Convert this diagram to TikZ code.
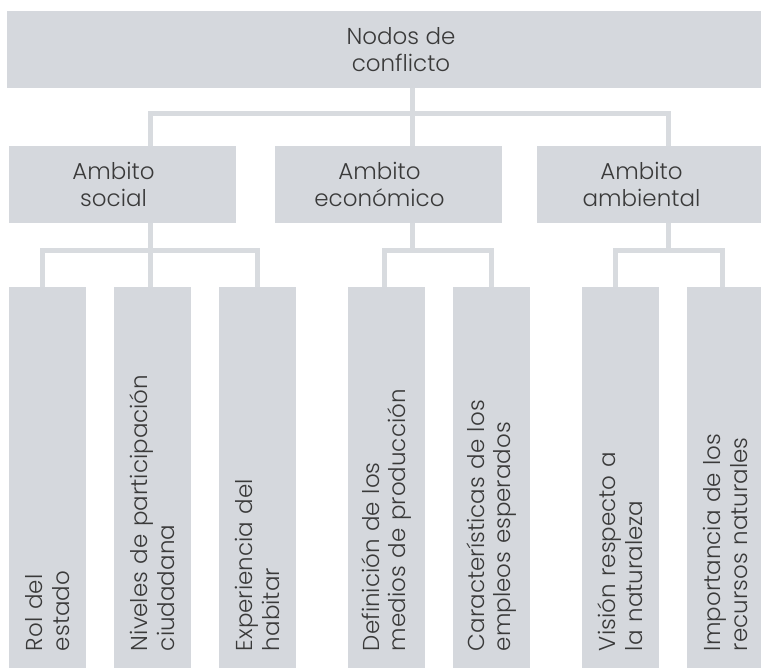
\documentclass[tikz,border=0pt]{standalone}
\usepackage{fontspec}
\IfFontExistsTF{Poppins Light}{\setmainfont{Poppins Light}}{\setmainfont{Poppins}}
\usetikzlibrary{positioning}
\definecolor{boxgray}{RGB}{213,216,221}
\definecolor{linegray}{RGB}{216,219,223}
\definecolor{textgray}{RGB}{58,58,58}
\tikzset{
  cbox/.style={fill=boxgray,inner sep=0pt,outer sep=0pt},
  midbox/.style={cbox,minimum width=227pt,minimum height=77pt},
  boxtext/.style={text=textgray,font=\fontsize{23}{26.7}\selectfont,align=center,inner sep=0pt},
  leaf/.style={cbox,rotate=90,minimum width=381pt,minimum height=77pt,text width=347pt,inner xsep=17pt,align=left,text=textgray,font=\fontsize{23}{26.7}\selectfont},
  link/.style={draw=linegray,line width=5pt}
}
\begin{document}
\begin{tikzpicture}[x=1pt,y=-1pt]
\useasboundingbox (0,0) rectangle (761,668);
\node[cbox,minimum width=806pt,minimum height=77pt] (top) at (410,49.5) {};
\node[boxtext,xshift=-9pt] (toptext) at (top) {Nodos de\\conflicto};
\node[midbox] (social) at (122.5,184.5) {};
\node[midbox] (econ) at (388.5,184.5) {};
\node[midbox] (amb) at (650.5,184.5) {};
\node[boxtext,xshift=-9pt] (socialtext) at (social) {Ambito\\social};
\node[boxtext,xshift=-9pt] (econtext) at (econ) {Ambito\\económico};
\node[boxtext,xshift=-9pt] (ambtext) at (amb) {Ambito\\ambiental};
\foreach \n/\x/\t in {rol/47.5/{Rol del\\estado},
  niv/152.5/{Niveles de participación\\ciudadana},
  exp/257.5/{Experiencia del\\habitar},
  def/386.5/{Definición de los\\medios de producción},
  car/491.5/{Características de los\\empleos esperados},
  vis/620.5/{Visión respecto a\\la naturaleza},
  imp/725.5/{Importancia de los\\recursos naturales}}{
\node[leaf] (\n) at (\x,477.5) {\t};
};
\coordinate (bl) at (150,113.5);
\coordinate (br) at (668,113.5);
\coordinate (sa) at (42.5,250.5);
\coordinate (sb) at (150,250.5);
\coordinate (sc) at (257.5,250.5);
\coordinate (ea) at (384.5,250.5);
\coordinate (em) at (412,250.5);
\coordinate (eb) at (491.5,250.5);
\coordinate (aa) at (615.5,250.5);
\coordinate (am) at (668,250.5);
\coordinate (ab) at (722.5,250.5);
\draw[link] (social.north -| bl) |- (br) -- (amb.north -| br);
\draw[link] (top.south -| em) -- (econ.north -| em);
\draw[link] (sa |- rol.east) |- (sc) -- (sc |- exp.east);
\draw[link] (social.south -| sb) -- (sb |- niv.east);
\draw[link] (ea |- def.east) |- (eb) -- (eb |- car.east);
\draw[link] (econ.south -| em) -- (em);
\draw[link] (aa |- vis.east) |- (ab) -- (ab |- imp.east);
\draw[link] (amb.south -| am) -- (am);
\end{tikzpicture}
\end{document}
